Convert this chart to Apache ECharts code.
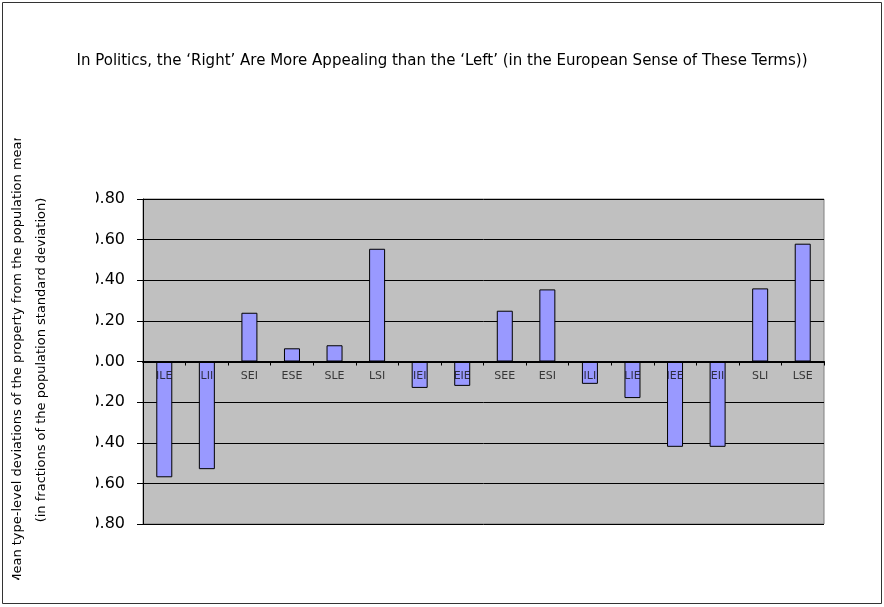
<!DOCTYPE html>
<html>
<head>
<meta charset="utf-8">
<script src="https://cdn.jsdelivr.net/npm/echarts@6/dist/echarts.min.js"></script>
<style>
html,body{margin:0;padding:0;background:#fff;}
#c{width:884px;height:607px;}
</style>
</head>
<body>
<div id="c"></div>
<script>
var categories = ['ILE','LII','SEI','ESE','SLE','LSI','IEI','EIE','SEE','ESI','ILI','LIE','IEE','EII','SLI','LSE'];
var values = [-0.57,-0.53,0.24,0.065,0.08,0.555,-0.13,-0.12,0.25,0.355,-0.11,-0.18,-0.42,-0.42,0.36,0.58];
var titleText = 'In Politics, the \u2018Right\u2019 Are More Appealing than the \u2018Left\u2019 (in the European Sense of These Terms))';
var yTitle1 = 'Mean type-level deviations of the property from the population mean';
var yTitle2 = '(in fractions of the population standard deviation)';

var chart = echarts.init(document.getElementById('c'));
var font = 'DejaVu Sans, Verdana, sans-serif';
chart.setOption({
  animation: false,
  backgroundColor: '#ffffff',
  title: {
    text: titleText,
    left: 'center',
    top: 49,
    textStyle: {fontFamily: font, fontSize: 15, fontWeight: 'normal', color: '#000'}
  },
  grid: {
    left: 143, right: 60, top: 199, bottom: 83,
    show: true, backgroundColor: '#c0c0c0', borderColor: '#808080', borderWidth: 1
  },
  xAxis: {
    type: 'category',
    data: categories,
    z: 5,
    axisLine: {onZero: true, lineStyle: {color: '#000', width: 2}},
    axisTick: {show: true, length: 4, inside: false, lineStyle: {color: '#000', width: 1}},
    axisLabel: {show: false}
  },
  yAxis: {
    type: 'value',
    min: -0.8, max: 0.8, interval: 0.2,
    axisLine: {show: true, lineStyle: {color: '#000', width: 1}},
    axisTick: {show: true, length: 6, lineStyle: {color: '#000'}},
    splitLine: {show: true, lineStyle: {color: '#000', width: 1}},
    axisLabel: {
      fontFamily: font, fontSize: 16, color: '#000', margin: 18,
      formatter: function (v) { return v.toFixed(2); }
    }
  },
  series: [{
    type: 'bar',
    data: values,
    barWidth: 16,
    itemStyle: {color: '#9999ff', borderColor: '#000', borderWidth: 1}
  }, {
    type: 'scatter',
    z: 6,
    symbolSize: 0,
    silent: true,
    data: categories.map(function (c) { return [c, 0]; }),
    label: {
      show: true, position: 'bottom', distance: 9,
      fontFamily: font, fontSize: 11, color: '#111',
      formatter: function (p) { return p.data[0]; }
    }
  }],
  graphic: [
    {type: 'rect', z: 100, shape: {x: 55, y: 185, width: 41, height: 355}, style: {fill: '#fff'}},
    {type: 'text', z: 50, x: 18, y: 359, rotation: Math.PI / 2,
     style: {text: yTitle1, fontFamily: font, fontSize: 13, fill: '#000', align: 'center', verticalAlign: 'middle'}},
    {type: 'text', z: 50, x: 42, y: 360, rotation: Math.PI / 2,
     style: {text: yTitle2, fontFamily: font, fontSize: 13, fill: '#000', align: 'center', verticalAlign: 'middle'}},
    {type: 'rect', z: 100, shape: {x: 4, y: 4, width: 28, height: 134}, style: {fill: '#fff'}},
    {type: 'rect', z: 100, shape: {x: 4, y: 580, width: 28, height: 22}, style: {fill: '#fff'}},
    {type: 'rect', z: 101, shape: {x: 2.5, y: 2.5, width: 879, height: 601}, style: {fill: 'none', stroke: '#333', lineWidth: 1}}
  ]
});
</script>
</body>
</html>
